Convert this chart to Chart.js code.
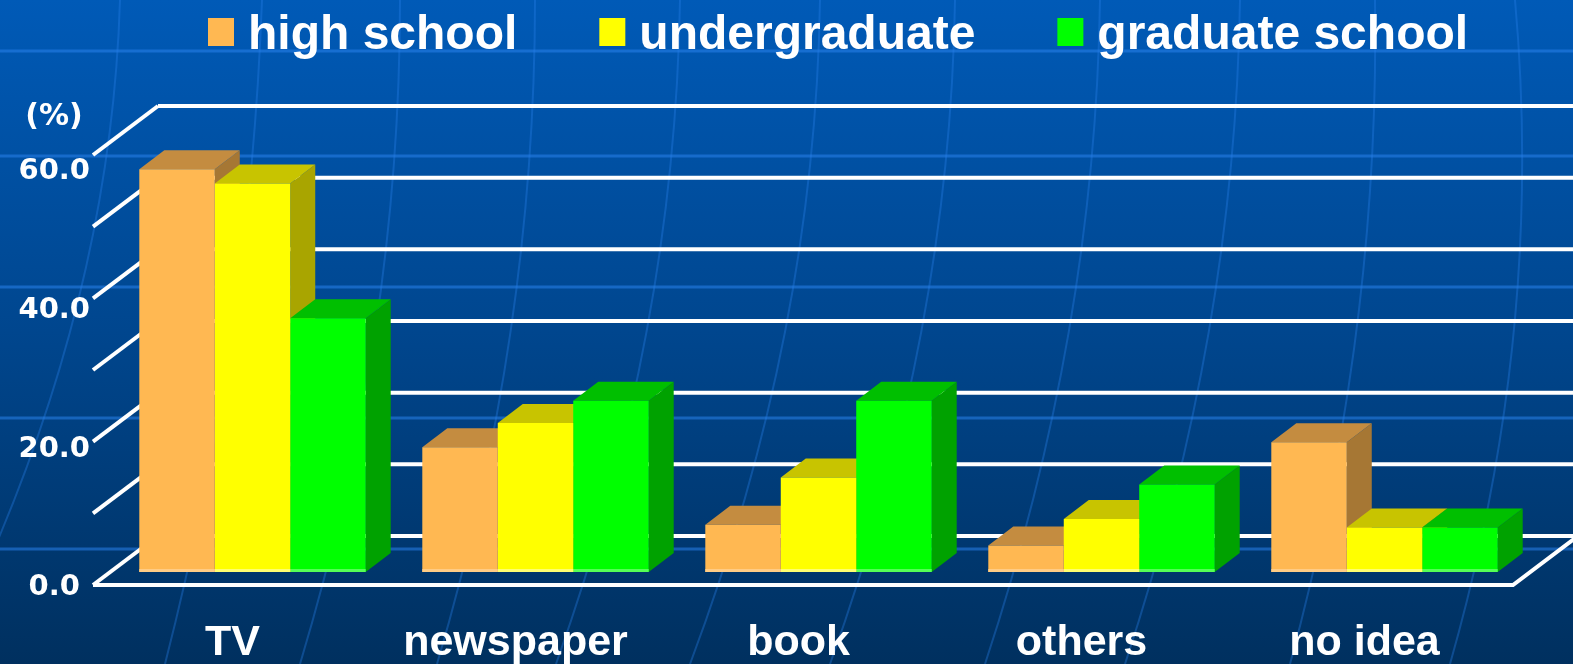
<!DOCTYPE html>
<html>
<head>
<meta charset="utf-8">
<script src="https://cdn.jsdelivr.net/npm/chart.js@4.4.1/dist/chart.umd.min.js"></script>
<style>
  html, body { margin: 0; padding: 0; background: #00336a; overflow: hidden; }
  canvas { display: block; }
</style>
</head>
<body>
<canvas id="media-chart" width="1573" height="664"></canvas>
<script>
const categories = ["TV", "newspaper", "book", "others", "no idea"];
const seriesNames = ["high school", "undergraduate", "graduate school"];
const highSchool = [56.2, 17.4, 6.6, 3.7, 18.1];
const undergraduate = [54.2, 20.8, 13.2, 7.4, 6.2];
const graduateSchool = [35.4, 23.9, 23.9, 12.2, 6.2];
const axisTicks = [0, 20, 40, 60];
const gridValues = [0, 10, 20, 30, 40, 50, 60];
const unitLabel = "(%)";

const seriesData = [highSchool, undergraduate, graduateSchool];
const faceColors = [
  { front: "#ffb852", top: "#c48c40", side: "#a67734", edge: "#ffcc85" },
  { front: "#ffff00", top: "#c8c400", side: "#a9a500", edge: "#ffff70" },
  { front: "#00ff00", top: "#00bf00", side: "#00a200", edge: "#55ff55" },
];

// 3d offsets (px): bar thickness, and floor front/back edge relative to the bar plane
const barDepth = { dx: 25, dy: -19 };
const floorFront = { dx: -18, dy: 13 };
const floorBack = { dx: 47, dy: -36 };

function drawBackground(chart) {
  const { ctx, width, height } = chart;
  const grad = ctx.createLinearGradient(0, 0, 0, height);
  grad.addColorStop(0, "#005ab7");
  grad.addColorStop(0.5, "#00468e");
  grad.addColorStop(1, "#00305f");
  ctx.save();
  ctx.fillStyle = grad;
  ctx.fillRect(0, 0, width, height);

  // faint globe lines
  ctx.strokeStyle = "rgba(40,130,235,0.55)";
  ctx.lineWidth = 3;
  [51, 156, 287, 418, 549].forEach((yy) => {
    ctx.beginPath();
    ctx.moveTo(0, yy);
    ctx.lineTo(width, yy);
    ctx.stroke();
  });
  ctx.strokeStyle = "rgba(40,130,235,0.35)";
  ctx.lineWidth = 2;
  const meridians = [
    [120, 110, -60], [262, 250, 165], [400, 400, 300], [535, 535, 437],
    [680, 675, 556], [820, 815, 690], [955, 950, 830], [1100, 1095, 985],
    [1240, 1235, 1125], [1375, 1380, 1290], [1515, 1545, 1450],
  ];
  meridians.forEach(([x0, xm, x1]) => {
    ctx.beginPath();
    ctx.moveTo(x0, 0);
    ctx.quadraticCurveTo(xm, height / 2, x1, height);
    ctx.stroke();
  });
  ctx.restore();
}

function drawFloorAndWall(chart) {
  const { ctx, chartArea } = chart;
  const y = chart.scales.y;
  const left = chartArea.left;
  const right = chartArea.right;
  ctx.save();
  ctx.strokeStyle = "#ffffff";
  ctx.lineWidth = 4;
  ctx.lineCap = "butt";
  gridValues.forEach((v) => {
    const py = y.getPixelForValue(v);
    // back wall line
    ctx.beginPath();
    ctx.moveTo(left + floorBack.dx, py + floorBack.dy);
    ctx.lineTo(chart.width, py + floorBack.dy);
    ctx.stroke();
    // left diagonal
    ctx.beginPath();
    ctx.moveTo(left + floorFront.dx, py + floorFront.dy);
    ctx.lineTo(left + floorBack.dx, py + floorBack.dy);
    ctx.stroke();
  });
  const base = y.getPixelForValue(0);
  const frontRight = right - 13;
  ctx.beginPath();
  ctx.moveTo(left + floorFront.dx, base + floorFront.dy);
  ctx.lineTo(frontRight, base + floorFront.dy);
  ctx.lineTo(frontRight + (floorBack.dx - floorFront.dx), base + floorBack.dy);
  ctx.stroke();
  ctx.restore();
}

// side and top faces, left to right, before chart.js paints the front faces
function drawBarFaces(chart) {
  const { ctx } = chart;
  ctx.save();
  categories.forEach((_, c) => {
    seriesData.forEach((_, index) => {
      const bar = chart.getDatasetMeta(index).data[c];
      const colors = faceColors[index];
      const { x, y, base, width } = bar.getProps(["x", "y", "base", "width"], true);
      const l = x - width / 2;
      const r = x + width / 2;
      ctx.fillStyle = colors.side;
      ctx.beginPath();
      ctx.moveTo(r, y);
      ctx.lineTo(r + barDepth.dx, y + barDepth.dy);
      ctx.lineTo(r + barDepth.dx, base + barDepth.dy);
      ctx.lineTo(r, base);
      ctx.closePath();
      ctx.fill();
      ctx.fillStyle = colors.top;
      ctx.beginPath();
      ctx.moveTo(l, y);
      ctx.lineTo(l + barDepth.dx, y + barDepth.dy);
      ctx.lineTo(r + barDepth.dx, y + barDepth.dy);
      ctx.lineTo(r, y);
      ctx.closePath();
      ctx.fill();
    });
  });
  ctx.restore();
}

function drawBarEdges(chart, index) {
  const { ctx } = chart;
  const meta = chart.getDatasetMeta(index);
  ctx.save();
  ctx.fillStyle = faceColors[index].edge;
  meta.data.forEach((bar) => {
    const { x, base, width } = bar.getProps(["x", "base", "width"], true);
    ctx.fillRect(x - width / 2, base - 3, width, 3);
  });
  ctx.restore();
}

function drawLegendAndUnit(chart) {
  const { ctx } = chart;
  ctx.save();
  ctx.font = "bold 48px 'Liberation Sans', Arial, sans-serif";
  ctx.textBaseline = "alphabetic";
  let cursor = 208;
  seriesNames.forEach((name, i) => {
    ctx.fillStyle = faceColors[i].front;
    ctx.fillRect(cursor, 18, 26, 28);
    ctx.fillStyle = "#ffffff";
    ctx.textAlign = "left";
    ctx.fillText(name, cursor + 40, 49);
    cursor += 40 + ctx.measureText(name).width + 82;
  });
  ctx.font = "bold 30px 'DejaVu Sans', sans-serif";
  ctx.textAlign = "center";
  ctx.textBaseline = "middle";
  ctx.fillText(unitLabel, 54, 117);
  ctx.restore();
}

const threeDPlugin = {
  id: "threeD",
  beforeDraw: drawBackground,
  beforeDatasetsDraw(chart) {
    drawFloorAndWall(chart);
    drawBarFaces(chart);
  },
  afterDatasetDraw(chart, args) { drawBarEdges(chart, args.index); },
  afterDatasetsDraw: drawLegendAndUnit,
};

new Chart(document.querySelector("#media-chart"), {
  type: "bar",
  data: {
    labels: categories,
    datasets: seriesNames.map((name, i) => ({
      label: name,
      data: seriesData[i],
      backgroundColor: faceColors[i].front,
      borderWidth: 0,
      barPercentage: 1,
      categoryPercentage: 0.8,
      yAxisID: "y",
    })),
  },
  options: {
    responsive: false,
    animation: false,
    devicePixelRatio: 1,
    layout: { padding: { top: 142, right: 47, left: 0, bottom: 0 } },
    plugins: { legend: { display: false }, tooltip: { enabled: false } },
    scales: {
      x: {
        grid: { display: false, drawTicks: false },
        border: { display: false },
        ticks: {
          color: "#ffffff",
          font: { family: "'Liberation Sans', Arial, sans-serif", weight: "bold", size: 43 },
          padding: 45,
          labelOffset: -20,
          maxRotation: 0,
          autoSkip: false,
        },
        afterFit(axis) { axis.height = 92; },
      },
      y: { display: false, min: 0, max: 60 },
      yLabels: {
        position: "left",
        min: 2.3,
        max: 64.27,
        grid: { display: false, drawTicks: false },
        border: { display: false },
        ticks: {
          color: "#ffffff",
          font: { family: "'DejaVu Sans', sans-serif", weight: "bold", size: 29 },
          padding: 21,
          crossAlign: "center",
          callback: (v) => Number(v).toFixed(1),
        },
        afterBuildTicks(axis) { axis.ticks = axisTicks.map((v) => ({ value: v })); },
        afterFit(axis) { axis.width = 111; },
      },
    },
  },
  plugins: [threeDPlugin],
});
</script>
</body>
</html>
